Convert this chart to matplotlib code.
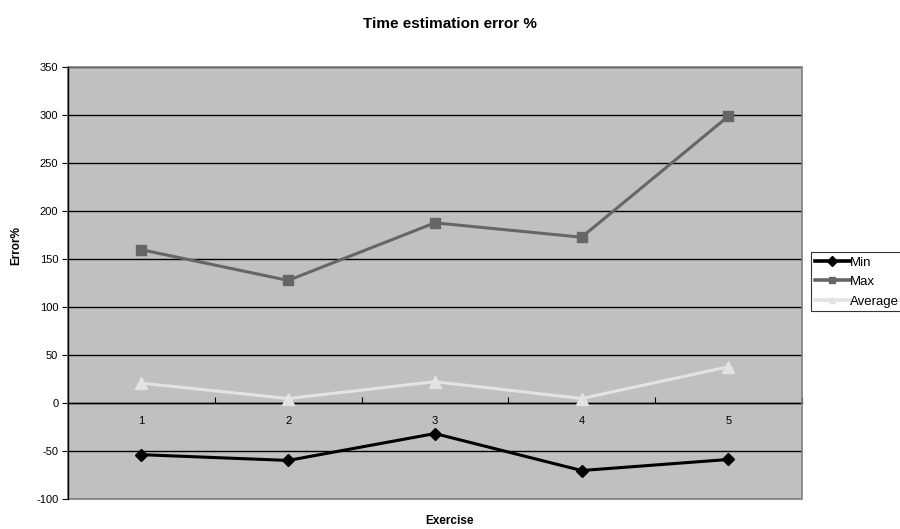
import matplotlib
matplotlib.use("Agg")
import matplotlib.pyplot as plt
from matplotlib.patches import Rectangle
from matplotlib.ticker import FixedLocator, NullFormatter

exercises = ["1", "2", "3", "4", "5"]
min_err = [-53.5, -59.5, -31.5, -70, -58.5]
max_err = [160, 128, 188, 173, 299]
avg_err = [21, 5, 22.5, 5, 38]
y_ticks = [-100, -50, 0, 50, 100, 150, 200, 250, 300, 350]

plt.rcParams["font.family"] = ["Liberation Sans", "DejaVu Sans"]

fig = plt.figure(figsize=(9, 5.29), dpi=100)
ax = fig.add_axes([0.0756, 0.0561, 0.8152, 0.8167])
ax.set_facecolor("#c0c0c0")

x = [i + 0.5 for i in range(len(exercises))]

ax.plot(x, min_err, color="#000000", lw=2.2, marker="D", ms=6, label="Min", zorder=4)
ax.plot(x, max_err, color="#666666", lw=2.2, marker="s", ms=7, label="Max", zorder=4)
ax.plot(x, avg_err, color="#e3e3e3", lw=2.2, marker="^", ms=8, label="Average", zorder=4)

ax.set_xlim(0, len(exercises))
ax.set_ylim(-100, 350)
ax.set_yticks(y_ticks)
ax.set_yticklabels([str(v) for v in y_ticks], fontsize=8)
ax.yaxis.grid(True, color="#000000", lw=1.0)
ax.set_axisbelow(True)

# category axis drawn on the zero line, ticks between categories
ax.spines["bottom"].set_position(("data", 0))
ax.spines["bottom"].set_color("#000000")
ax.spines["bottom"].set_linewidth(1.0)
for s in ("top", "right", "left"):
    ax.spines[s].set_visible(False)
ax.xaxis.set_major_locator(FixedLocator(range(len(exercises) + 1)))
ax.xaxis.set_major_formatter(NullFormatter())
ax.xaxis.set_minor_locator(FixedLocator(x))
ax.set_xticklabels(exercises, minor=True, fontsize=8)
ax.tick_params(axis="x", which="major", direction="in", length=4, color="#000000")
ax.tick_params(axis="x", which="minor", length=0, pad=9)
ax.tick_params(axis="y", direction="out", length=4, color="#000000", pad=3)

# plot area frame
ax.add_patch(Rectangle((0, 0), 1, 1, transform=ax.transAxes, fill=False,
                       edgecolor="#808080", lw=1.2, zorder=5, clip_on=False))
ax.plot([0, 0], [0, 1], transform=ax.transAxes, color="#000000", lw=1.0,
        zorder=6, clip_on=False)

fig.text(0.5, 0.955, "Time estimation error %", ha="center", va="center",
         fontsize=11, fontweight="bold")
fig.text(0.5, 0.015, "Exercise", ha="center", va="center", fontsize=8.5,
         fontweight="bold")
fig.text(0.018, 0.536, "Error%", ha="center", va="center", rotation=90,
         fontsize=8.5, fontweight="bold")

leg = fig.legend(loc="upper left", bbox_to_anchor=(0.9015, 0.523), fontsize=9.5,
                 frameon=True, fancybox=False, edgecolor="#000000",
                 handlelength=2.6, handletextpad=0.0, borderpad=0.3,
                 labelspacing=0.55, borderaxespad=0)
leg.get_frame().set_linewidth(0.8)
for h in leg.legend_handles:
    h.set_markersize(5)
    h.set_linewidth(2.6)

fig.savefig("out.png", dpi=100)
